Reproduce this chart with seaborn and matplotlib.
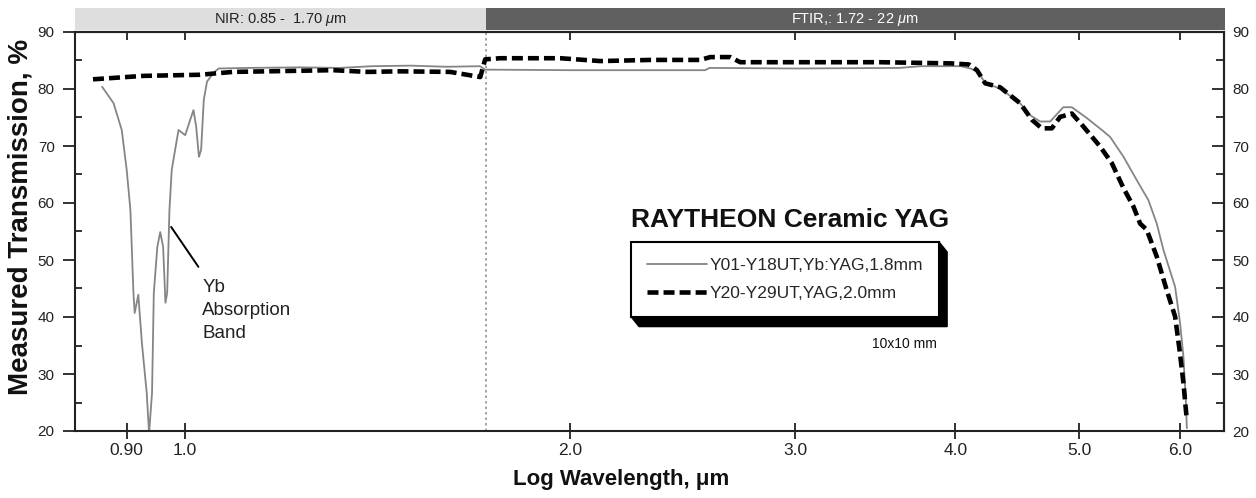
import matplotlib
matplotlib.use("Agg")
import numpy as np
import pandas as pd
import seaborn as sns
import matplotlib.pyplot as plt
from matplotlib.patches import Rectangle, Polygon
from matplotlib.transforms import IdentityTransform
from matplotlib.ticker import FixedLocator, NullLocator, NullFormatter, FixedFormatter
from matplotlib import font_manager as fm

# ---------------- data ----------------
series_labels = ["Y01-Y18UT,Yb:YAG,1.8mm", "Y20-Y29UT,YAG,2.0mm"]

yb_wl = [0.861, 0.879, 0.892, 0.900, 0.906, 0.911, 0.913, 0.919, 0.925, 0.933,
         0.937, 0.942, 0.945, 0.951, 0.956, 0.961, 0.965, 0.968, 0.972, 0.976,
         0.985, 0.988, 1.000, 1.009, 1.015, 1.020, 1.025, 1.029, 1.034, 1.040,
         1.052, 1.062, 1.12, 1.23, 1.32, 1.40, 1.50, 1.60, 1.70, 1.716,
         2.00, 2.30, 2.55, 2.57, 3.00, 3.62, 3.76, 4.04, 4.111, 4.169,
         4.222, 4.337, 4.496, 4.578, 4.661, 4.746, 4.859, 4.935, 5.070, 5.209,
         5.287, 5.416, 5.547, 5.664, 5.750, 5.819, 5.943, 5.997, 6.033, 6.059,
         6.070]
yb_T = [80.4, 77.5, 72.8, 65.8, 58.8, 44.2, 40.7, 43.9, 35.4, 26.7,
        19.6, 26.7, 44.2, 52.3, 54.9, 52.3, 42.5, 44.2, 58.8, 65.8,
        71.1, 72.8, 71.9, 74.6, 76.3, 73.3, 68.1, 69.3, 78.1, 81.3,
        82.8, 83.6, 83.7, 83.8, 83.7, 84.0, 84.1, 83.9, 84.0, 83.4,
        83.3, 83.3, 83.3, 83.7, 83.6, 83.7, 84.0, 84.0, 83.6, 83.0,
        81.0, 80.1, 77.5, 75.4, 74.3, 74.3, 76.8, 76.8, 74.9, 72.8,
        71.6, 68.1, 64.0, 60.5, 56.4, 51.8, 45.3, 38.9, 33.0, 25.4,
        20.5]

yag_wl = [0.847, 0.927, 1.027, 1.090, 1.230, 1.305, 1.388, 1.473, 1.611, 1.701,
          1.716, 1.763, 1.965, 2.111, 2.310, 2.527, 2.574, 2.668, 2.716, 3.137,
          3.494, 3.964, 4.10, 4.16, 4.222, 4.337, 4.496, 4.592, 4.675, 4.760,
          4.832, 4.935, 5.039, 5.193, 5.303, 5.416, 5.513, 5.580, 5.647, 5.750,
          5.854, 5.943, 5.991, 6.033, 6.070]
yag_T = [81.7, 82.3, 82.5, 83.0, 83.2, 83.3, 83.0, 83.1, 83.0, 82.1,
         85.2, 85.4, 85.4, 84.9, 85.1, 85.1, 85.6, 85.6, 84.7, 84.7,
         84.7, 84.5, 84.3, 83.3, 81.0, 80.3, 77.5, 74.6, 73.1, 73.1,
         75.1, 75.7, 73.4, 69.9, 67.0, 62.6, 59.4, 56.4, 55.3, 50.6,
         44.7, 40.1, 34.2, 28.4, 21.9]

xtick_vals = [0.90, 1.0, 2.0, 3.0, 4.0, 5.0, 6.0]
xtick_labels = ["0.90", "1.0", "2.0", "3.0", "4.0", "5.0", "6.0"]
ytick_vals = [20, 30, 40, 50, 60, 70, 80, 90]
ytick_minor = [25, 35, 45, 55, 65, 75, 85]
band_names = [r"NIR: 0.85 -  1.70 $\mu$m", r"FTIR,: 1.72 - 22 $\mu$m"]
band_split = 1.72
xlim = (0.82, 6.49)
ylim = (20, 90)

# ---------------- style ----------------
sns.set_theme(style="white")
names = {f.name for f in fm.fontManager.ttflist}
BASE = "Liberation Sans"
NARROW = "Liberation Sans Narrow" if "Liberation Sans Narrow" in names else BASE
plt.rcParams["font.family"] = [BASE, "DejaVu Sans"]
plt.rcParams["mathtext.fontset"] = "custom"
plt.rcParams["mathtext.rm"] = BASE
plt.rcParams["mathtext.it"] = BASE + ":italic"
plt.rcParams["mathtext.bf"] = BASE + ":bold"

SPINE = "#222222"
fig = plt.figure(figsize=(12.56, 4.98), dpi=100)
ax = fig.add_axes([75 / 1256, 67 / 498, 1149 / 1256, 399 / 498])
ax.set_xscale("log")

df_yb = pd.DataFrame({"wl": yb_wl, "T": yb_T})
df_yag = pd.DataFrame({"wl": yag_wl, "T": yag_T})

sns.lineplot(data=df_yb, x="wl", y="T", ax=ax, color="#858585", linewidth=1.3,
             estimator=None, sort=False, legend=False)
l_yb = ax.lines[-1]
sns.lineplot(data=df_yag, x="wl", y="T", ax=ax, color="black", linewidth=3.3,
             estimator=None, sort=False, legend=False)
l_yag = ax.lines[-1]
l_yag.set_dashes((2.4, 1.1))
l_yag.set_dash_capstyle("butt")

ax.set_xlim(*xlim)
ax.set_ylim(*ylim)

# vertical dotted separator
ax.axvline(band_split, ymin=0, ymax=1.06, color="#8a8a8a", lw=1.1,
           dashes=(1.6, 2.0), clip_on=False, zorder=1)

# header bands
trans = ax.get_xaxis_transform()
ax.add_patch(Rectangle((xlim[0], 1.005), band_split - xlim[0], 0.055, transform=trans,
                       facecolor="#dedede", edgecolor="none", clip_on=False, zorder=3))
ax.add_patch(Rectangle((band_split, 1.005), xlim[1] * 1.002 - band_split, 0.055, transform=trans,
                       facecolor="#606060", edgecolor="none", clip_on=False, zorder=3))
ax.text(np.sqrt(xlim[0] * band_split), 1.031, band_names[0], transform=trans,
        ha="center", va="center", fontsize=10.5, color="#222222", zorder=4)
ax.text(np.sqrt(band_split * xlim[1]), 1.031, band_names[1], transform=trans,
        ha="center", va="center", fontsize=10.5, color="white", zorder=4)

# ticks
ax.xaxis.set_major_locator(FixedLocator(xtick_vals))
ax.xaxis.set_major_formatter(FixedFormatter(xtick_labels))
ax.xaxis.set_minor_locator(NullLocator())
ax.tick_params(axis="x", which="major", direction="inout", length=11.5, width=1.3,
               labelsize=12.5, pad=3, bottom=True, top=False, color=SPINE,
               labelcolor="#222222")
ax.yaxis.set_major_locator(FixedLocator(ytick_vals))
ax.yaxis.set_minor_locator(FixedLocator(ytick_minor))
ax.tick_params(axis="y", which="major", direction="out", length=8.6, width=1.3,
               labelsize=11, pad=6, left=True, right=False, color=SPINE,
               labelcolor="#222222")
ax.tick_params(axis="y", which="minor", direction="in", length=5, width=1.3,
               left=True, right=False, color=SPINE)
for s in ax.spines.values():
    s.set_linewidth(1.5)
    s.set_color(SPINE)
    s.set_visible(True)

secx = ax.secondary_xaxis("top")
secx.set_xticks(xtick_vals)
secx.xaxis.set_minor_locator(NullLocator())
secx.xaxis.set_major_formatter(NullFormatter())
secx.tick_params(axis="x", which="major", direction="in", length=5.8, width=1.3,
                 top=True, color=SPINE)
secx.spines["top"].set_linewidth(1.5)
secx.spines["top"].set_color(SPINE)

secy = ax.secondary_yaxis("right")
secy.set_yticks(ytick_vals)
secy.yaxis.set_minor_locator(FixedLocator(ytick_minor))
secy.tick_params(axis="y", which="major", direction="in", length=8.6, width=1.3,
                 labelsize=11, pad=6, right=True, color=SPINE, labelcolor="#222222")
secy.tick_params(axis="y", which="minor", direction="in", length=5.8, width=1.3,
                 right=True, color=SPINE)
secy.spines["right"].set_linewidth(1.5)
secy.spines["right"].set_color(SPINE)

for lbl in ax.get_xticklabels() + ax.get_yticklabels() + secy.get_yticklabels():
    lbl.set_fontfamily([NARROW, "DejaVu Sans"])

# axis labels
ax.set_xlabel("Log Wavelength, μm", fontsize=16, fontweight="bold", color="#111111")
ax.xaxis.set_label_coords(0.475, -0.095)
ax.set_ylabel("Measured Transmission, %", fontsize=20, fontweight="bold", color="#111111")
ax.yaxis.set_label_coords(-0.036, 0.537)

# title & notes
ax.text(0.6223, 0.511, "RAYTHEON Ceramic YAG", transform=ax.transAxes,
        ha="center", va="baseline", fontsize=19, fontweight="bold", color="#111111")
ax.text(0.750, 0.208, "10x10 mm", transform=ax.transAxes,
        ha="right", va="baseline", fontsize=10, color="#111111")

ax.annotate("", xy=(0.975, 55.8), xytext=(1.024, 48.8),
            arrowprops=dict(arrowstyle="-", color="black", lw=1.4, shrinkA=0, shrinkB=0))
ax.text(1.031, 46.6, "Yb\nAbsorption\nBand", ha="left", va="top",
        fontsize=13.5, linespacing=1.45, color="#222222")

# legend
leg = ax.legend(handles=[l_yb, l_yag], labels=series_labels, loc="upper left",
                bbox_to_anchor=(0.4839, 0.4737), borderaxespad=0, frameon=True,
                fancybox=False, edgecolor="black", framealpha=1, fontsize=12.5,
                handlelength=3.5, handletextpad=0.15, borderpad=0.9, labelspacing=0.75)
leg.get_frame().set_linewidth(1.5)
leg.set_zorder(6)

fig.canvas.draw()
bb = leg.get_window_extent()
dx, dy = 8, 10
shadow = Polygon([(bb.x0, bb.y0), (bb.x0 + dx, bb.y0 - dy), (bb.x1 + dx, bb.y0 - dy),
                  (bb.x1 + dx, bb.y1 - dy), (bb.x1, bb.y1), (bb.x1, bb.y0)],
                 closed=True, transform=IdentityTransform(), facecolor="black",
                 edgecolor="black", zorder=5.5, clip_on=False)
ax.add_patch(shadow)
ax.set_xlim(*xlim)
ax.set_ylim(*ylim)

fig.savefig("out.png", dpi=100, facecolor="white")
